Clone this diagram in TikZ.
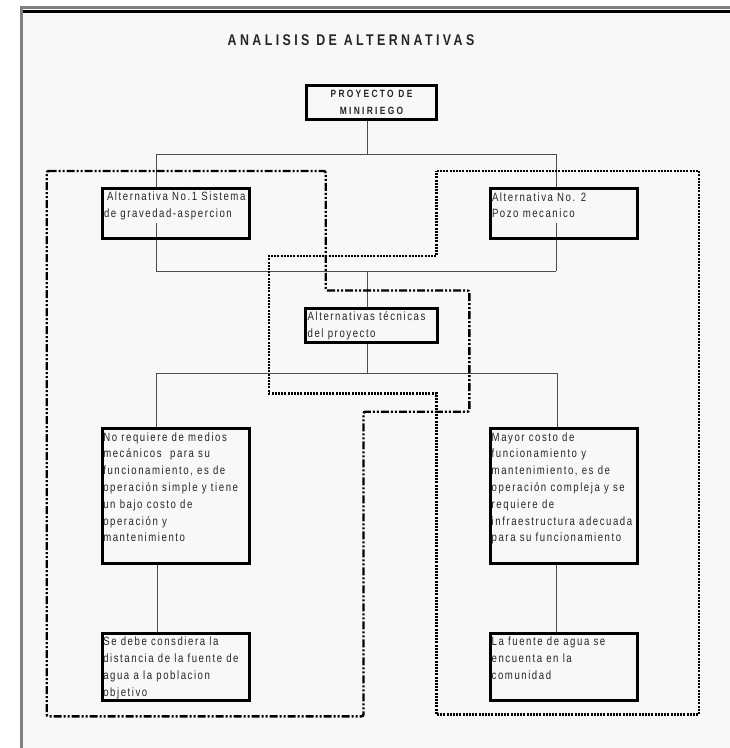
\documentclass[tikz,border=0pt]{standalone}
\usepackage{fontspec}
\setmainfont{Liberation Sans}[FakeStretch=0.8, LetterSpace=13]
\newfontfamily\headfont{Liberation Sans}[FakeStretch=0.8, LetterSpace=22]
\usetikzlibrary{calc}

\definecolor{paper}{HTML}{F8F8F8}
\definecolor{framegrey}{HTML}{808080}
\definecolor{ink}{HTML}{262626}

% stacked lines of box text; the block's baseline is the first line's
\newcommand\txtblock[1]{\vtop{\baselineskip=16.8pt\lineskiplimit=-20pt\lineskip=0pt #1}}
\newcommand\txtline[1]{\hbox{\strut #1}}

\pgfdeclarelayer{page}
\pgfdeclarelayer{links}
\pgfsetlayers{page,links,main}

\tikzset{
  boxframe/.style={draw=black, line width=3pt, inner sep=0pt, fill=none},
  boxtext/.style={anchor=base west, inner sep=0pt, outer sep=0pt, fill=paper,
    text=ink, font=\fontsize{12}{16.8}\selectfont},
  conn/.style={draw=black!70, line width=1pt},
  groupA/.style={draw=black, line width=2.4pt, rounded corners=2pt,
    dash pattern=on 8pt off 2pt on 2pt off 2pt on 2pt off 2pt},
  groupB/.style={draw=black, line width=2.5pt,
    dash pattern=on 2pt off 1.2pt}
}

\begin{document}
\begin{tikzpicture}[x=1pt, y=-1pt]
\useasboundingbox (0,0) rectangle (730,748);

% page with its frame
\begin{pgfonlayer}{page}
  \fill[white] (0,0) rectangle (730,748);
  \fill[framegrey] (20,6) rectangle (730,748);
  \fill[paper] (23,9) rectangle (730,748);
  \fill[black] (23,10) rectangle (730,12.5);
\end{pgfonlayer}

% title
\node[anchor=base, inner sep=0pt, text=ink,
  font=\headfont\bfseries\fontsize{15.5}{18}\selectfont] (title) at (351,45)
  {ANALISIS DE ALTERNATIVAS};

% text of the boxes
\node[boxtext] (alt1t) at (104,200.7)
  {\txtblock{\txtline{\hspace{3pt}Alternativa No.1 Sistema}\txtline{de gravedad-aspercion}}};
\node[boxtext] (alt2t) at (492,201)
  {\txtblock{\txtline{Alternativa No. 2}\txtline{Pozo mecanico}}};
\node[boxtext] (tect) at (307.7,320.7)
  {\txtblock{\txtline{Alternativas técnicas}\txtline{del proyecto}}};
\node[boxtext] (nb1t) at (103.3,441)
  {\txtblock{\txtline{No requiere de medios}\txtline{mecánicos\ \ para su}%
   \txtline{funcionamiento, es de}\txtline{operación simple y tiene}%
   \txtline{un bajo costo de}\txtline{operación y}\txtline{mantenimiento}}};
\node[boxtext] (mb1t) at (491.7,441)
  {\txtblock{\txtline{Mayor costo de}\txtline{funcionamiento y}%
   \txtline{mantenimiento, es de}\txtline{operación compleja y se}%
   \txtline{requiere de}\txtline{infraestructura adecuada}%
   \txtline{para su funcionamiento}}};
\node[boxtext] (nb2t) at (103.3,645.7)
  {\txtblock{\txtline{Se debe consdiera la}\txtline{distancia de la fuente de}%
   \txtline{agua a la poblacion}\txtline{objetivo}}};
\node[boxtext] (mb2t) at (491.7,645.7)
  {\txtblock{\txtline{La fuente de agua se}\txtline{encuenta en la}%
   \txtline{comunidad}}};

% box frames
\node[boxframe, minimum width=130pt, minimum height=34pt, align=center,
  text=ink, font=\headfont\bfseries\fontsize{10.5}{16.7}\selectfont]
  (proy) at (371.5,102.5) {PROYECTO DE\\MINIRIEGO};
\node[boxframe, minimum width=147pt, minimum height=50.3pt] (alt1) at (175.7,213.3) {};
\node[boxframe, minimum width=147pt, minimum height=50.3pt] (alt2) at (563.7,213.3) {};
\node[boxframe, minimum width=131.4pt, minimum height=34.3pt] (tec) at (371.5,325.3) {};
\node[boxframe, minimum width=147pt, minimum height=135pt] (nb1) at (175.7,495.7) {};
\node[boxframe, minimum width=147.6pt, minimum height=135pt] (mb1) at (564,495.7) {};
\node[boxframe, minimum width=147pt, minimum height=67pt] (nb2) at (175.7,666.7) {};
\node[boxframe, minimum width=147.6pt, minimum height=67pt] (mb2) at (564,666.7) {};

% junction points of the tree
\coordinate (spine) at (367,0);
\coordinate (busTopL) at (156,154);
\coordinate (busTopR) at (556,154);
\coordinate (busMidL) at (156,271);
\coordinate (busMidR) at (556,271);
\coordinate (busLowL) at (156,373.3);
\coordinate (busLowR) at (557.5,373.3);
\coordinate (legL) at (157.7,0);
\coordinate (legR) at (556.3,0);

\begin{pgfonlayer}{links}
  \draw[conn] (proy.south -| spine) -- (spine |- busTopL);
  \draw[conn] (busTopL) -- (busTopR);
  \draw[conn] (busTopL) -- (busMidL);
  \draw[conn] (busTopR) -- (busMidR);
  \draw[conn] (busMidL) -- (busMidR);
  \draw[conn] (spine |- busMidL) -- (tec.north -| spine);
  \draw[conn] (tec.south -| spine) -- (spine |- busLowL);
  \draw[conn] (busLowL) -- (busLowR);
  \draw[conn] (busLowL) -- (nb1.north -| busLowL);
  \draw[conn] (busLowR) -- (mb1.north -| busLowR);
  \draw[conn] (nb1.south -| legL) -- (nb2.north -| legL);
  \draw[conn] (mb1.south -| legR) -- (mb2.north -| legR);
\end{pgfonlayer}

% grouping outlines
\draw[groupA] (46.7,171) -- (325.7,171) -- (325.7,290.5) -- (469.3,290.5)
  -- (469.3,411.7) -- (363.5,411.7) -- (363.5,716.3) -- (46.7,716.3) -- cycle;
\draw[groupB] (436.7,171) -- (699,171) -- (699,714.3) -- (436.3,714.3)
  -- (436.3,393.3) -- (269,393.3) -- (269,256) -- (436.7,256) -- cycle;
\end{tikzpicture}
\end{document}
